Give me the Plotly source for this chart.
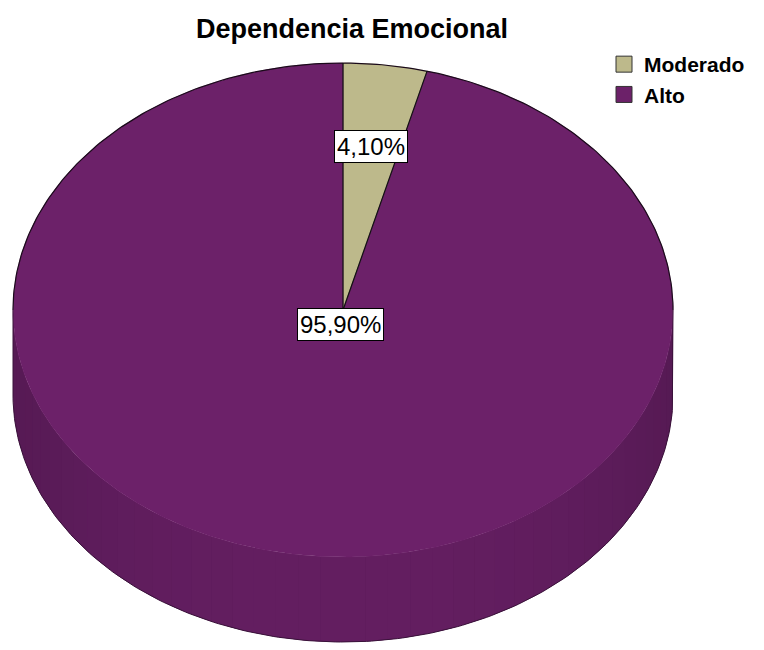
import numpy as np
import plotly.graph_objects as go

# ---- data ----
categories = ["Moderado", "Alto"]
percentages = [4.10, 95.90]
labels = ["4,10%", "95,90%"]
colors = ["#BDB98B", "#6C2169"]
title_text = "Dependencia Emocional"

# ---- geometry / style (pixel space) ----
W, H = 764, 650
cx, cy = 343, 310
rx, ry = 330, 247
depth = 85
label_frac = [0.667, 0.06]
FONT = "Liberation Sans, Arial, sans-serif"


def pt(theta_deg, z=0.0):
    t = np.radians(theta_deg)
    return cx + rx * np.sin(t), cy - ry * np.cos(t) + z


def shade(hex_color, f):
    h = hex_color.lstrip("#")
    r, g, b = (int(h[i:i + 2], 16) for i in (0, 2, 4))
    return "rgb(%d,%d,%d)" % (r * f, g * f, b * f)


total = sum(percentages)
bounds = np.concatenate([[0], np.cumsum(percentages) / total * 360.0])

fig = go.Figure()

# side walls (front half visible: 90..270 degrees)
for i, col in enumerate(colors):
    a0, a1 = max(bounds[i], 90), min(bounds[i + 1], 270)
    if a1 <= a0:
        continue
    arc = np.linspace(a0, a1, 120)
    xt, yt = pt(arc)
    xb, yb = pt(arc[::-1], depth)
    fig.add_trace(go.Scatter(
        x=np.concatenate([xt, xb, xt[:1]]), y=np.concatenate([yt, yb, yt[:1]]),
        mode="lines", fill="toself", fillcolor=shade(col, 0.86),
        line=dict(width=0), hoverinfo="skip", showlegend=False))
    edges = np.linspace(a0, a1, int((a1 - a0) / 4) + 2)
    for s0, s1 in zip(edges[:-1], edges[1:]):
        mid = np.radians((s0 + s1) / 2)
        f = 0.80 + 0.12 * (1 - abs(np.sin(mid)) ** 3)
        arc = np.linspace(s0, s1, 4)
        xt, yt = pt(arc)
        xb, yb = pt(arc[::-1], depth)
        fig.add_trace(go.Scatter(
            x=np.concatenate([xt, xb, xt[:1]]), y=np.concatenate([yt, yb, yt[:1]]),
            mode="lines", fill="toself", fillcolor=shade(col, f),
            line=dict(width=0), hoverinfo="skip", showlegend=False))

# top faces
for i, col in enumerate(colors):
    arc = np.linspace(bounds[i], bounds[i + 1], max(int((bounds[i + 1] - bounds[i]) * 2), 4))
    xa, ya = pt(arc)
    fig.add_trace(go.Scatter(
        x=np.concatenate([[cx], xa, [cx]]), y=np.concatenate([[cy], ya, [cy]]),
        mode="lines", fill="toself", fillcolor=col, line=dict(width=0.5, color=col),
        hoverinfo="skip", showlegend=False))

# outlines: back arc of top face
back = np.linspace(-90, 90, 200)
xb_, yb_ = pt(back)
fig.add_trace(go.Scatter(x=xb_, y=yb_, mode="lines", line=dict(color="#1a0a1a", width=1.2),
                         hoverinfo="skip", showlegend=False))
# silhouette of sides
front = np.linspace(90, 270, 200)
xf, yf = pt(front, depth)
xl, yl = pt(np.array([270.0]))
xr, yr = pt(np.array([90.0]))
fig.add_trace(go.Scatter(x=np.concatenate([xr, xf, xl]), y=np.concatenate([yr, yf, yl]),
                         mode="lines", line=dict(color="#3a123a", width=1),
                         hoverinfo="skip", showlegend=False))
# radial slice edges
for b in bounds[:-1]:
    xe, ye = pt(np.array([b]))
    fig.add_trace(go.Scatter(x=[cx, xe[0]], y=[cy, ye[0]], mode="lines",
                             line=dict(color="#111111", width=1.2),
                             hoverinfo="skip", showlegend=False))

# legend entries
for cat, col in zip(categories, colors):
    fig.add_trace(go.Scatter(x=[None], y=[None], mode="markers", name=cat,
                             marker=dict(symbol="square", size=22, color=col,
                                         line=dict(color="#333333", width=1))))

# data labels
for i, (lab, fr) in enumerate(zip(labels, label_frac)):
    mid = np.radians((bounds[i] + bounds[i + 1]) / 2)
    lx = cx + rx * fr * np.sin(mid)
    ly = cy - ry * fr * np.cos(mid)
    fig.add_annotation(x=lx, y=ly, text=lab, showarrow=False,
                       font=dict(family=FONT, size=24, color="black"),
                       bgcolor="white", bordercolor="black", borderwidth=1, borderpad=2)

fig.update_layout(
    width=W, height=H,
    margin=dict(l=0, r=0, t=0, b=0),
    paper_bgcolor="white", plot_bgcolor="white",
    xaxis=dict(range=[0, W], visible=False, fixedrange=True),
    yaxis=dict(range=[H, 0], visible=False, fixedrange=True),
    title=dict(text="<b>%s</b>" % title_text, x=352 / W, xanchor="center",
               y=1 - 29 / H, yanchor="middle", yref="container",
               font=dict(family=FONT, size=27, color="black")),
    legend=dict(x=604 / W, y=1 - 44 / H, xanchor="left", yanchor="top",
                font=dict(family=FONT, size=21, color="black", weight="bold"),
                bgcolor="rgba(0,0,0,0)", itemwidth=30, tracegroupgap=0),
    showlegend=True,
)

fig.write_html("out.html", config={"displayModeBar": False},
               post_script="document.body.style.margin='0px';")
